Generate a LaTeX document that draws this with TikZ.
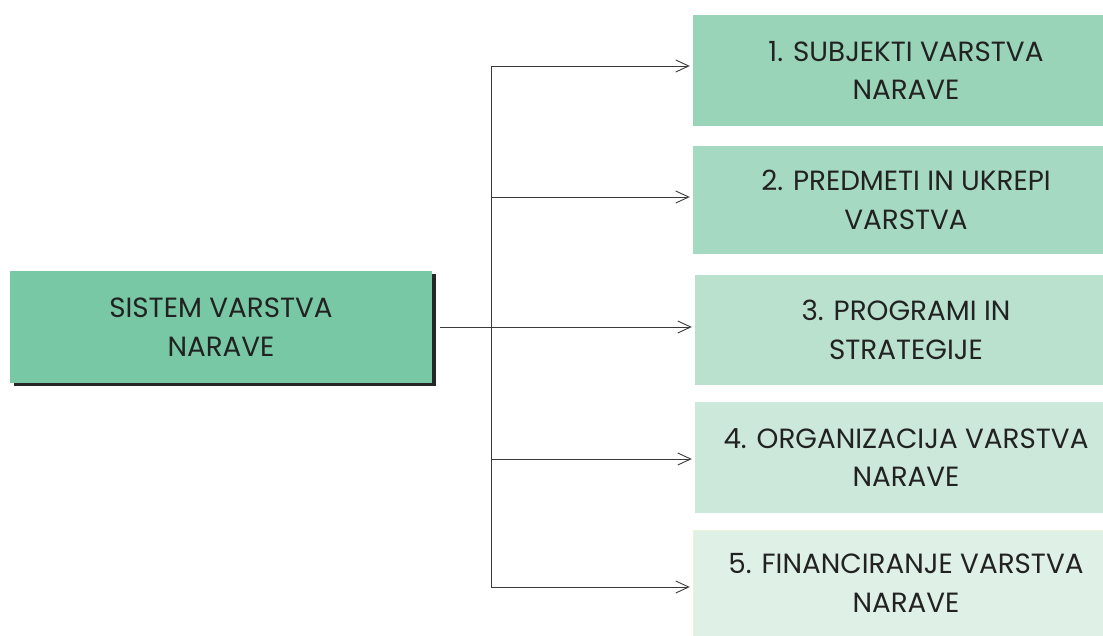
\documentclass[tikz,border=0pt]{standalone}
\usepackage{fontspec}
\setmainfont{Poppins}
\usepackage{tikz}
\usetikzlibrary{positioning}
\usetikzlibrary{arrows.meta,shadows}
\definecolor{mainfill}{HTML}{78C8A5}
\definecolor{fillone}{HTML}{99D3B8}
\definecolor{filltwo}{HTML}{A6D9C1}
\definecolor{fillthree}{HTML}{B9E1CE}
\definecolor{fillfour}{HTML}{CCE8DB}
\definecolor{fillfive}{HTML}{DFF0E6}
\definecolor{edgefive}{HTML}{EEF0DA}
\definecolor{linecol}{HTML}{3A3A3A}
\definecolor{textcol}{HTML}{222222}
\tikzset{
  >={Straight Barb[length=13pt,width=12pt]},
  box/.style={rectangle, inner sep=0pt, align=center, text=textcol,
    font=\fontsize{27.8}{38.5}\selectfont},
  branch/.style={box, minimum width=426pt},
  link/.style={draw=linecol, line width=0.9pt}
}

\begin{document}
\begin{tikzpicture}[x=1pt,y=-1pt]
\useasboundingbox (0,0) rectangle (1103,635);

% ---------------- Main box ----------------
\node[box, fill=mainfill, minimum width=422pt, minimum height=112pt,
  drop shadow={shadow xshift=4pt, shadow yshift=-3pt, fill=black!85, opacity=1}]
  (sistem) at (221,327) {SISTEM VARSTVA\\NARAVE};

% ---------------- Branch boxes ----------------
\node[branch, fill=fillone, minimum height=111pt] (subjekti) at (906,70.5)
  {1. SUBJEKTI VARSTVA\\NARAVE};
\node[branch, fill=filltwo, minimum height=108pt] (predmeti) at (906,200)
  {2. PREDMETI IN UKREPI\\VARSTVA};
\node[branch, fill=fillthree, minimum height=110pt, minimum width=422pt] (programi) at (906,330)
  {3. PROGRAMI IN\\STRATEGIJE};
\node[branch, fill=fillfour, minimum height=111pt, minimum width=422pt] (organizacija) at (906,457.5)
  {4. ORGANIZACIJA VARSTVA\\NARAVE};
\node[branch, fill=fillfive, draw=edgefive, minimum height=106pt] (financiranje) at (906,583)
  {5. FINANCIRANJE VARSTVA\\NARAVE};

% ---------------- Connectors ----------------
\coordinate (split) at (491,327);
\draw[link, shorten <=8pt] (sistem.east) -- (split);
\draw[link] ([yshift=4.5pt]split |- subjekti.west) -- ([yshift=-4pt]split |- financiranje.west);
% arrow heights sit a little off the box centres
\foreach \n/\dy in {subjekti/4.5,predmeti/3,programi/3,organizacija/-1.5,financiranje/-4}{
  \draw[link,->, shorten >=3pt] ([yshift=\dy pt]split |- \n.west) -- ([yshift=\dy pt]\n.west);
}

\end{tikzpicture}
\end{document}
